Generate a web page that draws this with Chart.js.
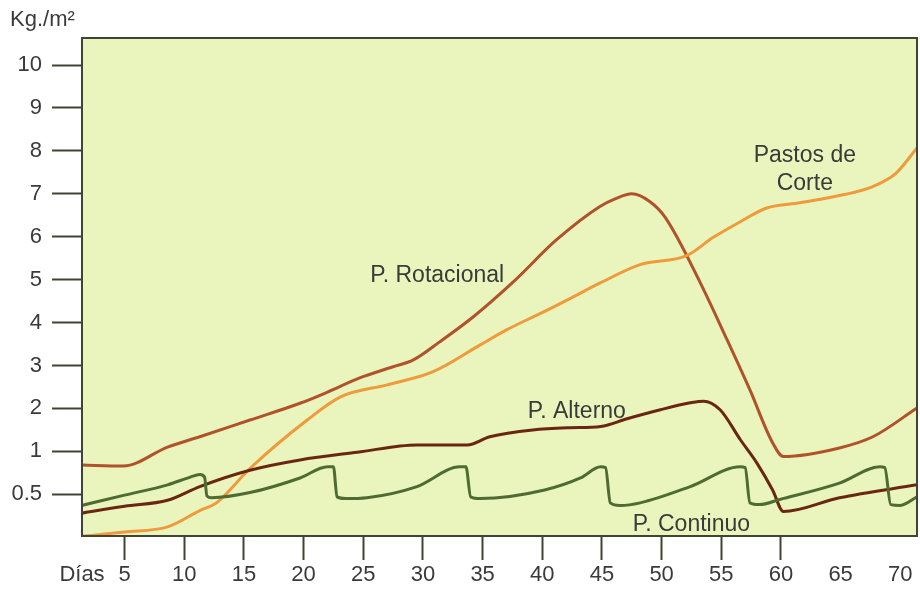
<!DOCTYPE html>
<html>
<head>
<meta charset="utf-8">
<script src="https://cdn.jsdelivr.net/npm/chart.js@4.4.1/dist/chart.umd.min.js"></script>
<style>
  html, body { margin: 0; padding: 0; background: #fff; }
</style>
</head>
<body>
<canvas id="chart" width="920" height="590"></canvas>
<script>
// Curves: day (x) and kg/m² (y)
const rotacionalDias = [1.4, 4.9, 8.6, 11.3, 15.5, 19.7, 22.0, 24.7, 27.5, 29.2, 31.4, 34.2, 37.5, 41.2, 44.8, 46.1, 47.5, 49.0, 50.3, 53.2, 55.5, 57.4, 59.3, 60.2, 64.9, 67.7, 71.4];
const rotacionalKg   = [0.84, 0.83, 1.10, 1.34, 1.73, 2.12, 2.38, 2.71, 2.97, 3.13, 3.55, 4.13, 4.93, 5.93, 6.70, 6.88, 7.00, 6.82, 6.45, 4.95, 3.59, 2.43, 1.20, 0.94, 1.08, 1.34, 2.01];

const pastosDias = [1.4, 5.0, 8.6, 11.3, 12.7, 15.5, 20.3, 23.1, 27.0, 30.8, 34.8, 37.0, 39.9, 42.6, 44.9, 48.2, 52.1, 54.3, 56.6, 58.8, 61.6, 64.4, 67.7, 69.6, 71.4];
const pastosKg   = [0.01, 0.06, 0.12, 0.31, 0.40, 0.80, 1.73, 2.27, 2.55, 2.85, 3.48, 3.83, 4.22, 4.60, 4.93, 5.35, 5.56, 5.98, 6.35, 6.67, 6.79, 6.93, 7.17, 7.47, 8.07];

const alternoDias = [1.4, 5.0, 8.6, 11.3, 15.5, 19.7, 24.5, 29.5, 33.7, 35.6, 39.2, 42.3, 44.9, 47.1, 49.9, 52.4, 53.5, 54.9, 56.6, 58.0, 59.3, 60.2, 64.9, 71.4];
const alternoKg   = [0.28, 0.36, 0.43, 0.59, 0.78, 0.90, 0.99, 1.15, 1.15, 1.34, 1.50, 1.55, 1.58, 1.76, 1.97, 2.13, 2.17, 1.97, 1.27, 0.86, 0.55, 0.30, 0.46, 0.61];

const continuoDias = [1.4, 5.0, 8.6, 10.5, 11.3, 11.7, 11.9, 12.3, 15.5, 19.7, 22.0, 22.5, 22.8, 23.5, 25.3, 29.5, 33.1, 33.6, 34.0, 34.8, 40.2, 43.2, 44.9, 45.3, 45.7, 46.5, 48.2, 52.4, 56.6, 57.0, 57.4, 58.2, 59.9, 64.9, 68.3, 68.7, 69.2, 70.0, 71.4];
const continuoKg   = [0.37, 0.49, 0.61, 0.70, 0.73, 0.70, 0.48, 0.46, 0.52, 0.69, 0.82, 0.82, 0.47, 0.45, 0.46, 0.59, 0.82, 0.82, 0.47, 0.45, 0.55, 0.69, 0.82, 0.81, 0.40, 0.37, 0.40, 0.59, 0.82, 0.81, 0.40, 0.38, 0.44, 0.63, 0.82, 0.81, 0.38, 0.37, 0.47];

// Tick labels
const yTicks = [0.5, 1, 2, 3, 4, 5, 6, 7, 8, 9, 10];
const xTicks = [5, 10, 15, 20, 25, 30, 35, 40, 45, 50, 55, 60, 65, 70];

// Curve names written inside the plot
const etiquetas     = ['P. Rotacional', 'P. Alterno', 'P. Continuo', 'Pastos de', 'Corte'];
const etiquetaDias  = [31.2, 42.9, 52.5, 62.0, 62.0];
const etiquetaKg    = [5.09, 1.92, 0.15, 7.88, 7.24];

// The axis is stretched below 1 kg: 0.5 sits one full step under 1
function toAxis(v) {
  return v >= 1 ? v : (v - 0.5) * 2;
}

function points(days, kg) {
  return days.map((d, i) => ({ x: d, y: toAxis(kg[i]) }));
}

const textColor = '#3a3a3a';
const lineDark = '#3f4532';
const font = { family: "'Liberation Sans', Arial, sans-serif", size: 22 };

// Plot background, frame and in-plot labels
const decor = {
  id: 'decor',
  beforeDatasetsDraw(chart) {
    const a = chart.chartArea;
    const ctx = chart.ctx;
    ctx.save();
    ctx.fillStyle = '#e9f5bc';
    ctx.fillRect(a.left, a.top, a.right - a.left, a.bottom - a.top);
    ctx.restore();
  },
  afterDatasetsDraw(chart) {
    const a = chart.chartArea;
    const ctx = chart.ctx;
    const xs = chart.scales.x, ys = chart.scales.y;
    ctx.save();
    ctx.strokeStyle = lineDark;
    ctx.lineWidth = 2;
    ctx.strokeRect(a.left, a.top, a.right - a.left, a.bottom - a.top);

    ctx.fillStyle = textColor;
    ctx.font = "23px 'Liberation Sans', Arial, sans-serif";
    ctx.textAlign = 'center';
    ctx.textBaseline = 'middle';
    etiquetas.forEach((t, i) => {
      ctx.fillText(t, xs.getPixelForValue(etiquetaDias[i]), ys.getPixelForValue(toAxis(etiquetaKg[i])));
    });

    ctx.font = "22px 'Liberation Sans', Arial, sans-serif";
    ctx.textAlign = 'left';
    ctx.fillText('Kg./m²', 10, 20);
    ctx.restore();
  }
};

const hideTick = (lo, hi) => (c) => (c.tick && (c.tick.value < lo || c.tick.value > hi)) ? 'rgba(0,0,0,0)' : lineDark;

const ctx = document.getElementById('chart').getContext('2d');
new Chart(ctx, {
  type: 'line',
  data: {
    datasets: [
      { label: 'P. Continuo', data: points(continuoDias, continuoKg), borderColor: '#4d6b33' },
      { label: 'P. Alterno', data: points(alternoDias, alternoKg), borderColor: '#6b2612' },
      { label: 'Pastos de Corte', data: points(pastosDias, pastosKg), borderColor: '#ef9a3c' },
      { label: 'P. Rotacional', data: points(rotacionalDias, rotacionalKg), borderColor: '#b0522b' }
    ]
  },
  options: {
    responsive: false,
    animation: false,
    layout: { padding: { top: 38, right: 3, left: 0, bottom: 0 } },
    elements: {
      line: { borderWidth: 3, cubicInterpolationMode: 'monotone', fill: false },
      point: { radius: 0 }
    },
    plugins: {
      legend: { display: false },
      tooltip: { enabled: false }
    },
    scales: {
      x: {
        type: 'linear',
        min: 1.43,
        max: 71.4,
        afterBuildTicks: (s) => { s.ticks = [{ value: 1.43 }].concat(xTicks.map(v => ({ value: v }))); },
        afterFit: (s) => { s.height = 54; },
        ticks: {
          callback: (v, i) => i === 0 ? 'Días' : String(v),
          autoSkip: false,
          maxRotation: 0,
          padding: 2,
          color: textColor,
          font: font
        },
        grid: { drawOnChartArea: false, tickLength: 24, tickWidth: 2, tickColor: hideTick(5, 60) },
        border: { display: false }
      },
      y: {
        type: 'linear',
        min: -0.972,
        max: 10.63,
        afterBuildTicks: (s) => { s.ticks = yTicks.map(v => ({ value: toAxis(v) })); },
        afterFit: (s) => { s.width = 82; },
        ticks: {
          callback: (v, i) => String(yTicks[i]),
          padding: 10,
          color: textColor,
          font: font
        },
        grid: { drawOnChartArea: false, tickLength: 30, tickWidth: 2, tickColor: lineDark },
        border: { display: false }
      }
    }
  },
  plugins: [decor]
});
</script>
</body>
</html>
